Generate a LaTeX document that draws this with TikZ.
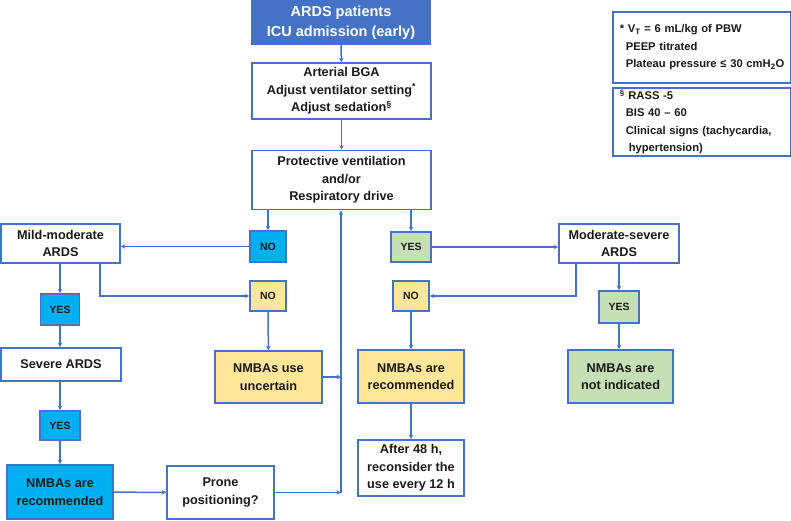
\documentclass[tikz,border=0pt]{standalone}
\usepackage{fontspec}
\setmainfont{Liberation Sans}
\usetikzlibrary{arrows.meta}
\definecolor{bl}{HTML}{4472C4}
\definecolor{cyanbox}{HTML}{00B0F0}
\definecolor{yelbox}{HTML}{FFE699}
\definecolor{grnbox}{HTML}{C5E0B4}
\definecolor{txt}{HTML}{1A1A1A}
\tikzset{
  box/.style={draw=bl, line width=1.6pt, fill=white, align=center, inner sep=0pt, text=txt,
    font=\fontsize{12.7}{17.5}\selectfont\bfseries},
  small/.style={box, font=\fontsize{10.5}{13}\selectfont\bfseries},
  note/.style={box, align=left, anchor=north west, font=\fontsize{11.2}{17.5}\selectfont\bfseries},
  conn/.style={draw=bl, line width=1.5pt, -{Stealth[length=4.5pt,width=4.5pt]}},
}
\begin{document}
\begin{tikzpicture}[x=1pt,y=-1pt]
\useasboundingbox (0,0) rectangle (791,520);
% boxes
\node[box, fill=bl, text=white, minimum width=178, minimum height=43,
  font=\fontsize{14.5}{20}\selectfont\bfseries] (top) at (341,22.5) {ARDS patients\\ICU admission (early)};
\node[box, minimum width=179, minimum height=56] (bga) at (341.5,91)
  {Arterial BGA\\Adjust ventilator setting\textsuperscript{*}\\Adjust sedation\textsuperscript{\S}};
\node[box, minimum width=179, minimum height=59] (prot) at (341.5,180)
  {Protective ventilation\\and/or\\Respiratory drive};
\node[small, fill=cyanbox, minimum width=36, minimum height=31] (no1) at (268,246.5) {NO};
\node[box, minimum width=119, minimum height=39] (mild) at (60.5,243.5) {Mild-moderate\\ARDS};
\node[small, fill=cyanbox, minimum width=39, minimum height=31] (yes1) at (60,309.5) {YES};
\node[small, fill=yelbox, minimum width=36, minimum height=30] (no2) at (268,296) {NO};
\node[small, fill=grnbox, minimum width=40, minimum height=30] (yes2) at (411,247) {YES};
\node[box, minimum width=120, minimum height=39] (mod) at (619,243.5) {Moderate-severe\\ARDS};
\node[small, fill=yelbox, minimum width=36, minimum height=30] (no3) at (411,296) {NO};
\node[small, fill=grnbox, minimum width=40, minimum height=32] (yes3) at (619,307) {YES};
\node[box, minimum width=120, minimum height=33] (sev) at (61,364.5) {Severe ARDS};
\node[small, fill=cyanbox, minimum width=40, minimum height=29] (yes4) at (60,425.5) {YES};
\node[box, fill=cyanbox, minimum width=106, minimum height=54] (nmbab) at (60,492) {NMBAs are\\recommended};
\node[box, minimum width=107, minimum height=53] (prone) at (220.5,492.5) {Prone\\positioning?};
\node[box, fill=yelbox, minimum width=107, minimum height=52] (unc) at (268.5,377) {NMBAs use\\uncertain};
\node[box, fill=yelbox, minimum width=106, minimum height=53] (rec) at (411,376.5) {NMBAs are\\recommended};
\node[box, minimum width=106, minimum height=56] (after) at (411,468) {After 48 h,\\reconsider the\\use every 12 h};
\node[box, fill=grnbox, minimum width=105, minimum height=53] (noti) at (620.5,376.5) {NMBAs are\\not indicated};
% notes
\node[note, minimum width=178, minimum height=71, text width=178] (n1) at (612,11)
  {\hspace*{7pt}* V\textsubscript{T} = 6 mL/kg of PBW\\
   \hspace*{13pt}PEEP titrated\\
   \hspace*{13pt}Plateau pressure ≤ 30 cmH\textsubscript{2}O};
\node[note, minimum width=178, minimum height=68, text width=178] (n2) at (612,87)
  {\hspace*{7pt}\textsuperscript{\S} RASS -5\\
   \hspace*{13pt}BIS 40 – 60\\
   \hspace*{13pt}Clinical signs (tachycardia,\\
   \hspace*{16pt}hypertension)};
% helper coordinates
\coordinate (m2) at (100,263);
\coordinate (m3) at (576,263);
\coordinate (vb) at (341,492.5);
% connectors
\draw[conn] (top) -- (bga);
\draw[conn] (bga) -- (prot);
\draw[conn] (no1.north |- prot.south) -- (no1.north);
\draw[conn] (yes2.north |- prot.south) -- (yes2.north);
\draw[conn] (no1.west) -- (mild.east |- no1.west);
\draw[conn] (yes1.north |- mild.south) -- (yes1.north);
\draw[conn] (m2) -- (m2 |- no2.west) -- (no2.west);
\draw[conn] (no2) -- (unc);
\draw[conn] (yes2.east) -- (mod.west |- yes2.east);
\draw[conn] (m3) -- (m3 |- no3.east) -- (no3.east);
\draw[conn] (yes3.north |- mod.south) -- (yes3.north);
\draw[conn] (yes3) -- (yes3 |- noti.north);
\draw[conn] (no3) -- (rec);
\draw[conn] (rec) -- (after);
\draw[conn] (yes1) -- (yes1 |- sev.north);
\draw[conn] (sev.south -| yes4) -- (yes4);
\draw[conn] (yes4) -- (nmbab);
\draw[conn] (nmbab) -- (prone);
\draw[conn] (prone.east) -- (vb);
\draw[conn] (unc.east) -- (unc.east -| vb);
\draw[conn] (vb) -- (vb |- prot.south);
\end{tikzpicture}
\end{document}
